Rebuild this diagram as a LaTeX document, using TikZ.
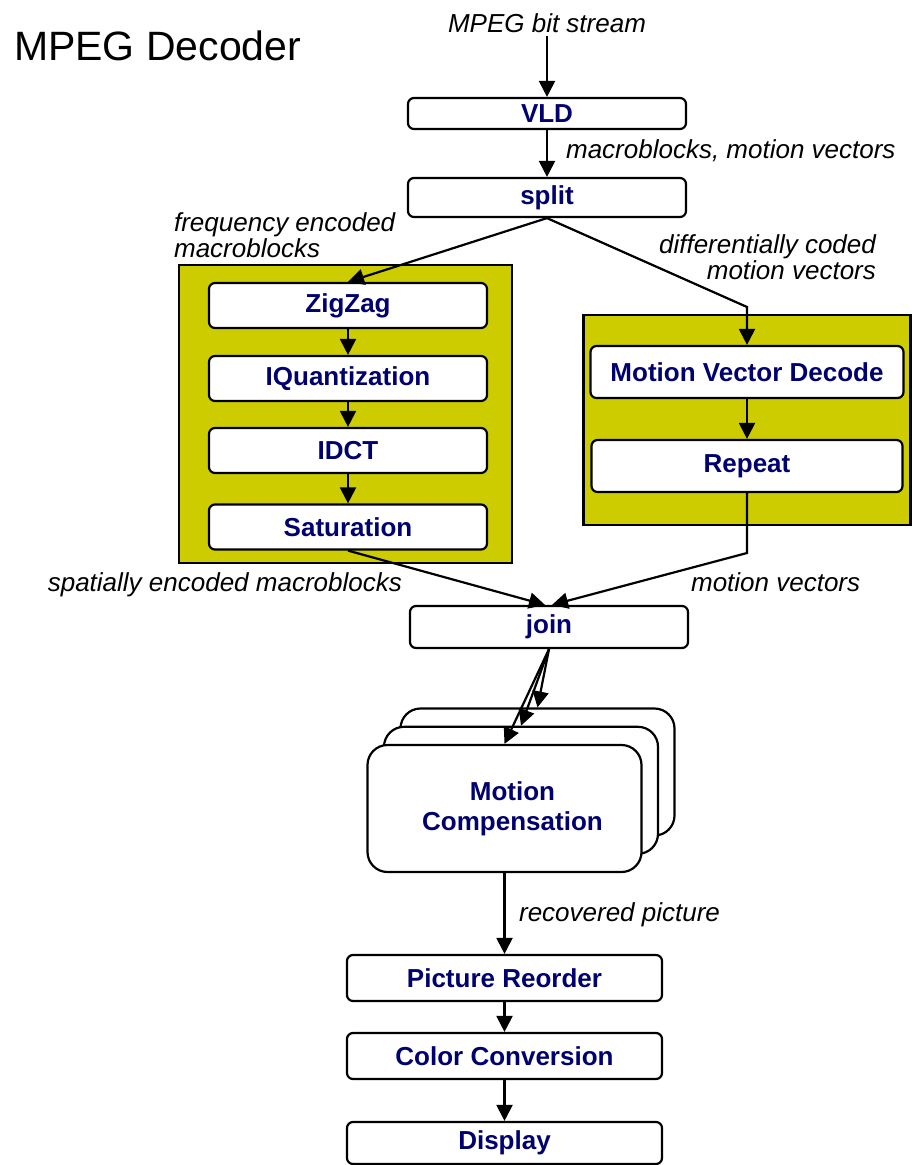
\documentclass[tikz,border=0pt]{standalone}
\usepackage{fontspec}
\setmainfont{Liberation Sans}
\usetikzlibrary{arrows.meta}
\definecolor{grpyellow}{RGB}{204,204,0}
\definecolor{blkblue}{RGB}{0,0,110}
\newcommand{\lblfont}{\fontsize{26}{23}\selectfont\itshape}
\newcommand{\blkfont}{\fontsize{26}{30}\selectfont\bfseries}
\begin{document}
\begin{tikzpicture}[x=1pt, y=-1pt, line width=2.2pt,
    blk/.style={draw, fill=white, rounded corners=6pt, minimum width=278pt,
      minimum height=45pt, inner sep=0pt, text=blkblue, font=\blkfont},
    grp/.style={draw, fill=grpyellow, inner sep=0pt},
    lbl/.style={inner sep=0pt, font=\lblfont},
    mcbox/.style={blk, rounded corners=20pt, minimum width=274pt,
      minimum height=127pt, align=center},
    arr/.style={-{Triangle[length=16pt, width=16pt]}}]
  \useasboundingbox (0,0) rectangle (911,1165);
  % title and input
  \node[inner sep=0pt, anchor=base west, font=\fontsize{41}{41}\selectfont] (title) at (13,60) {MPEG Decoder};
  \node[lbl, anchor=base] (bits) at (547,32) {MPEG bit stream};
  \node[blk, minimum height=31pt] (vld) at (547,113.5) {VLD};
  \node[blk, minimum height=39pt] (split) at (547,197.5) {split};
  \node[lbl, anchor=base west] (mblbl) at (565,158) {macroblocks, motion vectors};
  \draw[arr] ([yshift=-3pt]bits.south) -- (vld.north);
  \draw[arr] (vld.south) -- (split.north);
  % left group
  \node[lbl, align=left, anchor=north west] (freqlbl) at (173,212) {frequency encoded\\macroblocks};
  \node[grp, minimum width=333pt, minimum height=298pt] (lgroup) at (345.5,414) {};
  \foreach \nm/\y/\txt in {zigzag/305.5/ZigZag, iquant/378.5/IQuantization,
      idct/450.5/IDCT, sat/527/Saturation}{
    \node[blk] (\nm) at (348,\y) {\txt};
  }
  \draw[arr] (zigzag) -- (iquant);
  \draw[arr] (iquant) -- (idct);
  \draw[arr] (idct) -- (sat);
  \draw[arr] (split.south) -- (zigzag.north);
  % right group
  \node[lbl, align=right, anchor=north east] (difflbl) at (877,234) {differentially coded\\motion vectors};
  \node[grp, minimum width=327pt, minimum height=210pt] (rgroup) at (747,420) {};
  \node[blk, minimum width=313pt, minimum height=52pt] (mvd) at (747,372) {Motion Vector Decode};
  \node[blk, minimum width=311pt, minimum height=52pt] (repeat) at (747,466) {Repeat};
  \coordinate (mvbend) at (747,307);
  \draw[arr] (split.south) -- (mvbend) -- (mvd.north);
  \draw[arr] (mvd) -- (repeat);
  % join
  \node[lbl, anchor=base east] (spatlbl) at (403,591) {spatially encoded macroblocks};
  \node[lbl, anchor=base west] (mvlbl) at (690,591) {motion vectors};
  \node[blk, minimum height=42pt] (join) at (549,627) {join};
  \coordinate (repbend) at (747,553);
  \draw[arr] (sat.south) -- ([xshift=-4pt]join.north);
  \draw[arr] (repeat.south) -- (repbend) -- ([xshift=3pt]join.north);
  % motion compensation
  \foreach \i/\nm in {0/mcback, 1/mcmid}{
    \node[mcbox] (\nm) at (537.5-16.5*\i, 772+18.3*\i) {};
  }
  \node[mcbox] (mcfront) at (504.5,808.5) {\hspace*{16pt}Motion\\\hspace*{16pt}Compensation};
  \foreach \nm in {mcfront, mcmid, mcback}
    \draw[arr] (join.south) -- (\nm.north);
  % output chain
  \node[lbl, anchor=base west] (reclbl) at (518,921) {recovered picture};
  \node[blk, minimum width=315pt, minimum height=46pt] (reorder) at (504.5,978) {Picture Reorder};
  \node[blk, minimum width=315pt, minimum height=46pt] (colconv) at (504.5,1056) {Color Conversion};
  \node[blk, minimum width=315pt, minimum height=42pt] (display) at (504.5,1143) {Display};
  \draw[arr] (mcfront.south) -- (reorder.north);
  \draw[arr] (reorder) -- (colconv);
  \draw[arr] (colconv) -- (display);
\end{tikzpicture}
\end{document}
